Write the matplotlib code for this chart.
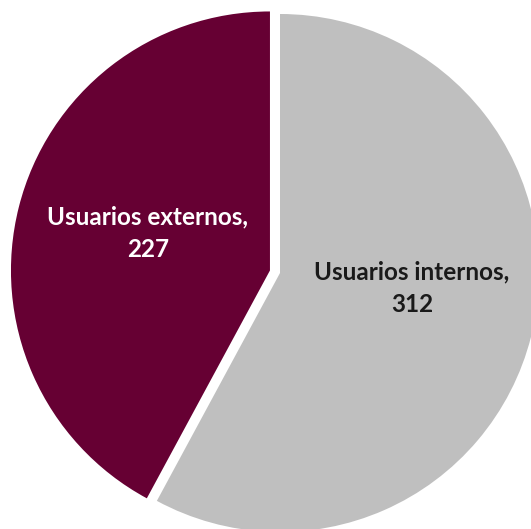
import matplotlib.pyplot as plt

# user counts
categorias = ['Usuarios internos', 'Usuarios externos']
valores = [312, 227]
colores = ['#BFBFBF', '#660033']
color_texto = ['#1A1A1A', 'white']

fig = plt.figure(figsize=(5.31, 5.29), dpi=100)
ax = fig.add_axes([0, 0, 1, 1])

ax.pie(valores, colors=colores, startangle=90, counterclock=False,
       explode=[0, 0.04], radius=1.0)

# 259 px per data unit, pie centre at (280, 273) px from top-left
ax.set_xlim(-280 / 259, (531 - 280) / 259)
ax.set_ylim(-(529 - 273) / 259, 273 / 259)
ax.set_aspect('auto')
ax.axis('off')

pos_etiquetas = [(0.51, -0.058), (-0.51, 0.154)]
for cat, val, (x, y), c in zip(categorias, valores, pos_etiquetas, color_texto):
    ax.text(x, y, '{},\n{}'.format(cat, val), ha='center', va='center',
            color=c, fontsize=17.5, fontweight='bold', family='Lato',
            linespacing=1.5)

plt.savefig('out.png', dpi=100)
